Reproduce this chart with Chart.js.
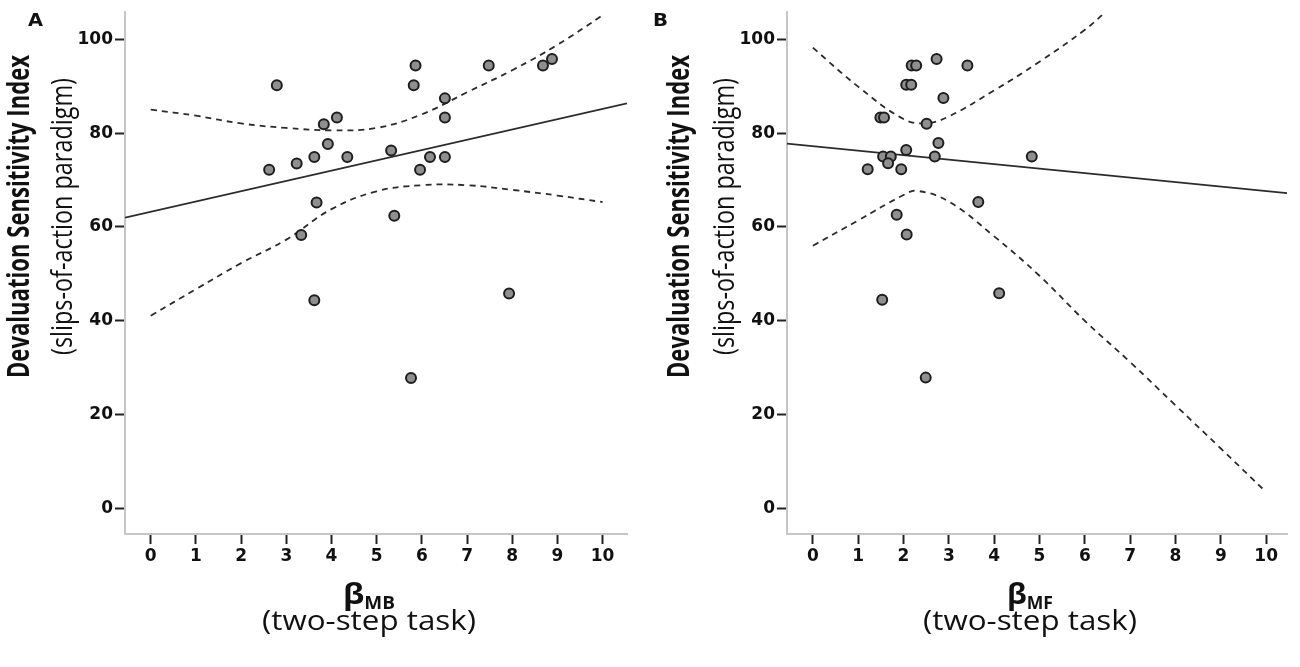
<!DOCTYPE html>
<html>
<head>
<meta charset="utf-8">
<script src="https://cdn.jsdelivr.net/npm/chart.js@4.4.1/dist/chart.umd.min.js"></script>
<style>
  html, body { margin: 0; padding: 0; background: #fff; }
  #wrap { position: relative; width: 1300px; height: 667px; overflow: hidden; }
  .panel { position: absolute; top: 0; width: 650px; height: 667px; }
</style>
</head>
<body>
<div id="wrap">
  <div class="panel" style="left:0"><canvas id="chartA" width="650" height="667"></canvas></div>
  <div class="panel" style="left:650px"><canvas id="chartB" width="650" height="667"></canvas></div>
</div>
<script>
// Devaluation sensitivity vs. beta (MB / MF), two scatter panels with fit + 95% CI

// ── data ──────────────────────────────────────────────────────────────────────
const Y_TICKS = [0, 20, 40, 60, 80, 100];
const X_TICKS = [0, 1, 2, 3, 4, 5, 6, 7, 8, 9, 10];

// panel A: beta MB
const mbX = [2.79, 2.62, 3.23, 3.62, 3.83, 4.12, 3.92, 4.35, 3.67, 3.33, 3.62, 5.32, 5.39,
             5.86, 5.82, 6.51, 6.51, 6.18, 6.51, 5.96, 7.48, 8.68, 8.88, 7.93, 5.76];
const mbY = [90.2, 72.2, 73.5, 74.9, 81.9, 83.3, 77.7, 74.9, 65.2, 58.3, 44.4, 76.3, 62.4,
             94.4, 90.2, 87.4, 83.3, 74.9, 74.9, 72.2, 94.4, 94.4, 95.8, 45.8, 27.8];
const fitAX = [-0.57, 10.54];
const fitAY = [62.0, 86.35];
const ciAX = [0, 1, 2, 3, 4, 5, 6, 7, 8, 9, 10];
const ciAUpper = [85.0, 83.7, 82.05, 81.1, 80.6, 81.1, 84.0, 88.7, 93.4, 98.8, 105.1];
const ciALower = [41.1, 46.75, 52.3, 57.3, 63.8, 67.6, 68.9, 68.9, 67.9, 66.7, 65.3];

// panel B: beta MF
const mfX = [2.73, 2.18, 2.28, 3.41, 2.06, 2.17, 2.88, 1.49, 1.57, 2.51, 2.77, 2.06, 1.55,
             1.72, 1.66, 2.69, 4.83, 1.21, 1.95, 3.65, 1.85, 2.07, 1.53, 4.11, 2.49];
const mfY = [95.8, 94.4, 94.4, 94.4, 90.3, 90.3, 87.5, 83.3, 83.3, 82.0, 77.9, 76.4, 75.0,
             75.0, 73.6, 75.0, 75.0, 72.3, 72.3, 65.3, 62.6, 58.4, 44.5, 45.9, 27.9];
const fitBX = [-0.57, 10.46];
const fitBY = [77.75, 67.2];
const ciBUpperX = [0, 1, 2, 2.5, 3, 4, 5, 6, 6.4];
const ciBUpper  = [98.2, 89.9, 83.0, 82.1, 83.55, 89.1, 95.2, 102.0, 105.3];
const ciBLowerX = [0, 1, 2, 2.3, 3, 4, 5, 6, 7, 8, 9, 10];
const ciBLower  = [56.0, 61.4, 66.8, 67.7, 65.4, 58.0, 49.6, 40.0, 31.2, 22.0, 12.8, 3.5];

// ── helpers ───────────────────────────────────────────────────────────────────
const pts = (xs, ys) => xs.map((x, i) => ({ x, y: ys[i] }));
const INK = '#111';

// draw text squeezed/stretched to a target length (source figure is not 1:1)
function fitText(ctx, text, font, x, y, len, rotated) {
    ctx.save();
    ctx.translate(x, y);
    if (rotated) ctx.rotate(-Math.PI / 2);
    ctx.font = font;
    const w = ctx.measureText(text).width;
    ctx.scale(len / w, 1);
    ctx.textAlign = 'center';
    ctx.textBaseline = 'alphabetic';
    ctx.fillText(text, 0, 0);
    ctx.restore();
}

const panelText = {
    id: 'panelText',
    afterDraw(chart, args, o) {
        const ctx = chart.ctx;
        ctx.save();
        ctx.fillStyle = INK;
        fitText(ctx, o.letter, 'bold 17px "DejaVu Sans"', o.letterX, 25.5, 15, false);

        // y title, two lines
        fitText(ctx, 'Devaluation Sensitivity Index', 'bold 31px "Open Sans"', o.y1, 216.5, 323, true);
        fitText(ctx, '(slips-of-action paradigm)', '30px "Open Sans"', o.y2, 216.5, 277, true);

        // x title: beta with subscript
        const big = 'bold 29px "Open Sans"', small = 'bold 17px "Open Sans"';
        ctx.font = big;  const wb = ctx.measureText('β').width;
        ctx.font = small; const ws = ctx.measureText(o.sub).width;
        const tot = wb + ws;
        ctx.save();
        ctx.translate(o.xc, 604);
        ctx.scale(o.betaLen / tot, 1);
        ctx.textAlign = 'left';
        ctx.textBaseline = 'alphabetic';
        ctx.font = big;   ctx.fillText('β', -tot / 2, 0);
        ctx.font = small; ctx.fillText(o.sub, -tot / 2 + wb, 5);
        ctx.restore();

        fitText(ctx, '(two-step task)', '27px "Open Sans"', o.xc, 630, 214, false);
        ctx.restore();
    }
};

function makeChart(id, cfg) {
    const tickFont = { family: 'DejaVu Sans', size: 17, weight: 'bold' };
    const line = { showLine: true, pointRadius: 0, pointHoverRadius: 0, fill: false,
                   borderColor: '#2b2b2b', borderWidth: 1.8, clip: 0 };
    return new Chart(document.getElementById(id), {
        type: 'scatter',
        data: {
            datasets: [
                { data: pts(cfg.xs, cfg.ys), pointRadius: 5, pointBorderWidth: 2,
                  pointBackgroundColor: '#8f8f8f', pointBorderColor: '#1e1e1e' },
                { ...line, data: pts(cfg.fitX, cfg.fitY) },
                { ...line, data: pts(cfg.upX, cfg.upY), borderDash: [6, 5], tension: 0.4 },
                { ...line, data: pts(cfg.loX, cfg.loY), borderDash: [6, 5], tension: 0.4 }
            ]
        },
        options: {
            responsive: false,
            animation: false,
            layout: { padding: { left: 0, right: cfg.padRight, top: 7, bottom: 0 } },
            plugins: { legend: { display: false }, tooltip: { enabled: false },
                       panelText: cfg.text },
            scales: {
                x: {
                    type: 'linear', min: -0.57, max: cfg.xMax,
                    afterBuildTicks: s => { s.ticks = X_TICKS.map(v => ({ value: v })); },
                    afterFit: s => { s.height = 133; },
                    ticks: { font: tickFont, color: INK, padding: 2, autoSkip: false, maxRotation: 0 },
                    grid: { drawOnChartArea: false, tickLength: 10, tickColor: '#222', tickWidth: 2 },
                    border: { color: '#c6c6c6', width: 2 }
                },
                y: {
                    type: 'linear', min: -5.42, max: 105.76,
                    afterBuildTicks: s => { s.ticks = Y_TICKS.map(v => ({ value: v })); },
                    afterFit: s => { s.width = cfg.yWidth; },
                    ticks: { font: tickFont, color: INK, padding: 2 },
                    grid: { drawOnChartArea: false, tickLength: 10, tickColor: '#222', tickWidth: 2 },
                    border: { color: '#c6c6c6', width: 2 }
                }
            }
        },
        plugins: [panelText]
    });
}

// ── init ──────────────────────────────────────────────────────────────────────
makeChart('chartA', {
    xs: mbX, ys: mbY, fitX: fitAX, fitY: fitAY,
    upX: ciAX, upY: ciAUpper, loX: ciAX, loY: ciALower,
    xMax: 10.54, padRight: 23, yWidth: 125,
    text: { letter: 'A', letterX: 35.5, y1: 29, y2: 72, xc: 369, sub: 'MB', betaLen: 52 }
});

makeChart('chartB', {
    xs: mfX, ys: mfY, fitX: fitBX, fitY: fitBY,
    upX: ciBUpperX, upY: ciBUpper, loX: ciBLowerX, loY: ciBLower,
    xMax: 10.46, padRight: 13, yWidth: 137,
    text: { letter: 'B', letterX: 10.5, y1: 39, y2: 84, xc: 380, sub: 'MF', betaLen: 46 }
});
</script>
</body>
</html>
